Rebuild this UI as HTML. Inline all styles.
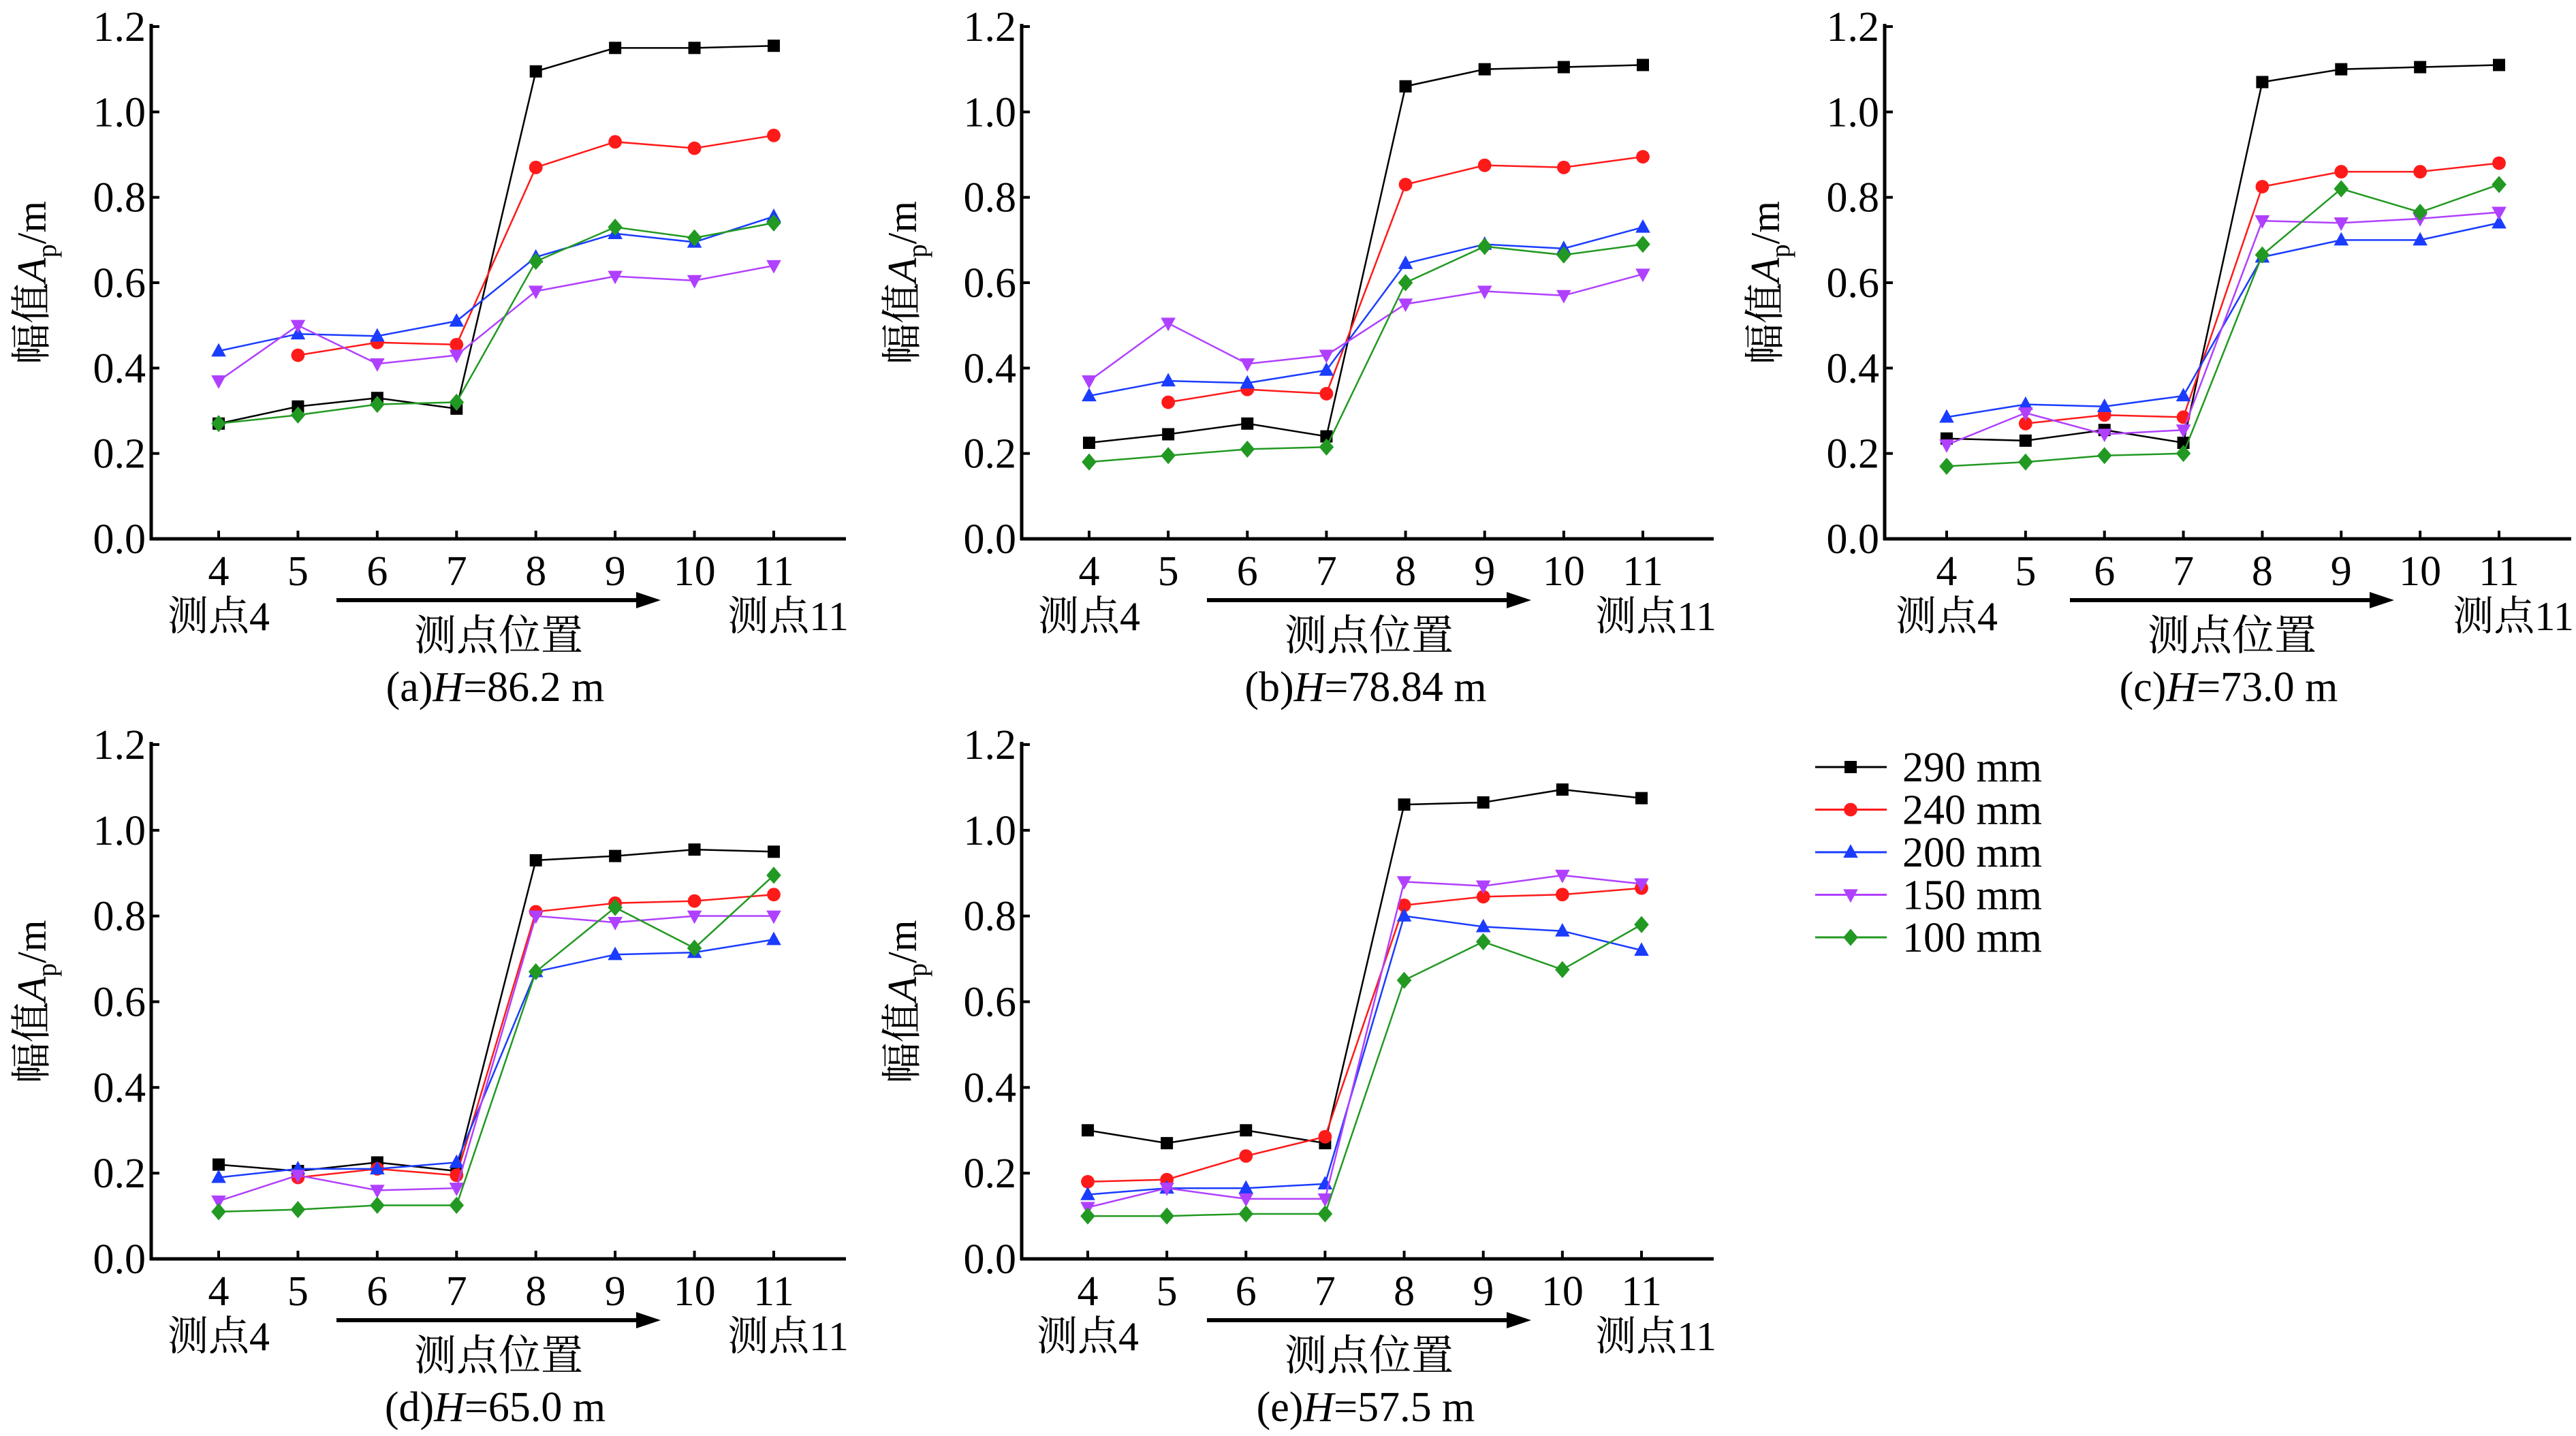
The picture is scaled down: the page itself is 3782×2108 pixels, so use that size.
<!DOCTYPE html>
<html><head><meta charset="utf-8">
<style>
html,body{margin:0;padding:0;background:#fff;}
svg{display:block;font-family:"Liberation Serif","Noto Serif CJK SC",serif;}
</style></head>
<body>
<svg id="chart" width="3782" height="2108" viewBox="0 0 3782 2108" xmlns="http://www.w3.org/2000/svg"></svg>
<script>
const categories = [4,5,6,7,8,9,10,11];
const yTicks = [0.0,0.2,0.4,0.6,0.8,1.0,1.2];
const yTickLabels = ["0.0","0.2","0.4","0.6","0.8","1.0","1.2"];
const seriesNames = ["290 mm","240 mm","200 mm","150 mm","100 mm"];
const captionsPrefix = ["(a)","(b)","(c)","(d)","(e)"];
const captionsValue = ["=86.2 m","=78.84 m","=73.0 m","=65.0 m","=57.5 m"];
const a290=[0.27,0.31,0.33,0.305,1.095,1.15,1.15,1.155];
const a240=[null,0.43,0.46,0.455,0.87,0.93,0.915,0.945];
const a200=[0.44,0.48,0.475,0.51,0.66,0.715,0.695,0.755];
const a150=[0.37,0.50,0.41,0.43,0.58,0.615,0.605,0.64];
const a100=[0.27,0.29,0.315,0.32,0.65,0.73,0.705,0.74];
const b290=[0.225,0.245,0.27,0.24,1.06,1.10,1.105,1.11];
const b240=[null,0.32,0.35,0.34,0.83,0.875,0.87,0.895];
const b200=[0.335,0.37,0.365,0.395,0.645,0.69,0.68,0.73];
const b150=[0.37,0.505,0.41,0.43,0.55,0.58,0.57,0.62];
const b100=[0.18,0.195,0.21,0.215,0.60,0.685,0.665,0.69];
const c290=[0.235,0.23,0.255,0.225,1.07,1.10,1.105,1.11];
const c240=[null,0.27,0.29,0.285,0.825,0.86,0.86,0.88];
const c200=[0.285,0.315,0.31,0.335,0.66,0.70,0.70,0.74];
const c150=[0.22,0.295,0.245,0.255,0.745,0.74,0.75,0.765];
const c100=[0.17,0.18,0.195,0.20,0.665,0.82,0.765,0.83];
const d290=[0.22,0.205,0.225,0.205,0.93,0.94,0.955,0.95];
const d240=[null,0.19,0.21,0.195,0.81,0.83,0.835,0.85];
const d200=[0.19,0.21,0.21,0.225,0.67,0.71,0.715,0.745];
const d150=[0.135,0.195,0.16,0.165,0.80,0.785,0.80,0.80];
const d100=[0.11,0.115,0.125,0.125,0.67,0.82,0.725,0.895];
const e290=[0.30,0.27,0.30,0.27,1.06,1.065,1.095,1.075];
const e240=[0.18,0.185,0.24,0.285,0.825,0.845,0.85,0.865];
const e200=[0.15,0.165,0.165,0.175,0.80,0.775,0.765,0.72];
const e150=[0.12,0.165,0.14,0.14,0.88,0.87,0.895,0.875];
const e100=[0.10,0.10,0.105,0.105,0.65,0.74,0.675,0.78];

const NS="http://www.w3.org/2000/svg";
const svg=document.getElementById('chart');
const colors=["#000000","#ff1a1a","#1a3cff","#b040ff","#229922"];
const markers=["square","circle","up","down","diamond"];
const panels=[
 {ax:222,top:39,bot:791,x0:321,x1:1136,right:1242,data:[a290,a240,a200,a150,a100]},
 {ax:1500,top:39,bot:791,x0:1599,x1:2412,right:2516,data:[b290,b240,b200,b150,b100]},
 {ax:2767,top:39,bot:791,x0:2858,x1:3669,right:3775,data:[c290,c240,c200,c150,c100]},
 {ax:222,top:1093,bot:1848,x0:321,x1:1136,right:1242,data:[d290,d240,d200,d150,d100]},
 {ax:1500,top:1093,bot:1848,x0:1597,x1:2410,right:2516,data:[e290,e240,e200,e150,e100]}
];
function el(tag,attrs,parent,text){const e=document.createElementNS(NS,tag);for(const k in attrs)e.setAttribute(k,attrs[k]);if(text!==undefined)e.textContent=text;(parent||svg).appendChild(e);return e;}
function marker(g,type,x,y,c,s){
 let m;
 if(type==="square")m=el('rect',{x:x-s,y:y-s,width:2*s,height:2*s,fill:c},g);
 else if(type==="circle")m=el('circle',{cx:x,cy:y,r:s*1.1,fill:c},g);
 else if(type==="up")m=el('polygon',{points:`${x},${y-s*1.3} ${x-s*1.2},${y+s*0.9} ${x+s*1.2},${y+s*0.9}`,fill:c},g);
 else if(type==="down")m=el('polygon',{points:`${x},${y+s*1.3} ${x-s*1.2},${y-s*0.9} ${x+s*1.2},${y-s*0.9}`,fill:c},g);
 else m=el('polygon',{points:`${x},${y-s*1.4} ${x+s*1.2},${y} ${x},${y+s*1.4} ${x-s*1.2},${y}`,fill:c},g);
 return m;
}
panels.forEach((p,pi)=>{
 const g=el('g',{});
 
 
 const xs=i=>p.x0+(p.x1-p.x0)*i/(categories.length-1);
 const ys=v=>p.bot-(p.bot-p.top)*v/1.2;
 const ya=el('line',{x1:p.ax,y1:p.top-4,x2:p.ax,y2:p.bot+2,stroke:'#000','stroke-width':5},g);
 
 const xa=el('line',{x1:p.ax-2,y1:p.bot,x2:p.right,y2:p.bot,stroke:'#000','stroke-width':5},g);
 
 yTicks.forEach((t,i)=>{
  el('line',{x1:p.ax,y1:ys(t),x2:p.ax+12,y2:ys(t),stroke:'#000','stroke-width':4},g);
  const tl=el('text',{x:p.ax-8,y:ys(t)+21,'text-anchor':'end','font-size':62},g,yTickLabels[i]);
  
 });
 categories.forEach((c,i)=>{
  el('line',{x1:xs(i),y1:p.bot,x2:xs(i),y2:p.bot-12,stroke:'#000','stroke-width':4},g);
  const tl=el('text',{x:xs(i),y:p.bot+68,'text-anchor':'middle','font-size':62},g,String(c));
  
 });
 const yt=el('text',{transform:`translate(${p.ax-155},${(p.top+p.bot)/2}) rotate(-90)`,'text-anchor':'middle','font-size':60},g);
 
 el('tspan',{},yt,'幅值');
 el('tspan',{'font-style':'italic'},yt,'A');
 el('tspan',{'font-size':40,dy:15},yt,'p');
 el('tspan',{dy:-15},yt,'/m');
 const l4=el('text',{x:xs(0),y:p.bot+134,'text-anchor':'middle','font-size':60},g,'测点4');
 
 const l11=el('text',{x:p.right+4,y:p.bot+134,'text-anchor':'end','font-size':60},g,'测点11');
 
 const ar=el('line',{x1:p.ax+272,y1:p.bot+90,x2:p.ax+720,y2:p.bot+90,stroke:'#000','stroke-width':6},g);
 
 el('polygon',{points:`${p.ax+748},${p.bot+90} ${p.ax+712},${p.bot+78} ${p.ax+712},${p.bot+102}`,fill:'#000'},g);
 const lp=el('text',{x:p.ax+510,y:p.bot+163,'text-anchor':'middle','font-size':62},g,'测点位置');
 
 const cap=el('text',{x:p.ax+505,y:p.bot+238,'text-anchor':'middle','font-size':62},g);
 
 el('tspan',{},cap,captionsPrefix[pi]);
 el('tspan',{'font-style':'italic'},cap,'H');
 el('tspan',{},cap,captionsValue[pi]);
 p.data.forEach((vals,si)=>{
  const sg=el('g',{},g);
  
  
  const pts=[];vals.forEach((v,i)=>{if(v!==null)pts.push([xs(i),ys(v)]);});
  const pl=el('polyline',{points:pts.map(q=>q.join(',')).join(' '),fill:'none',stroke:colors[si],'stroke-width':2.5},sg);
  
  pts.forEach(q=>{
   const m=marker(sg,markers[si],q[0],q[1],colors[si],9);
   
   
  });
 });
});
const lg=el('g',{});


seriesNames.forEach((n,i)=>{
 const y=1126+i*62.5;
 const eg=el('g',{},lg);
 
 
 el('line',{x1:2665,y1:y,x2:2770,y2:y,stroke:colors[i],'stroke-width':3},eg);
 marker(eg,markers[i],2717,y,colors[i],9);
 el('text',{x:2793,y:y+21,'font-size':62},eg,n);
});
</script>
</body></html>
